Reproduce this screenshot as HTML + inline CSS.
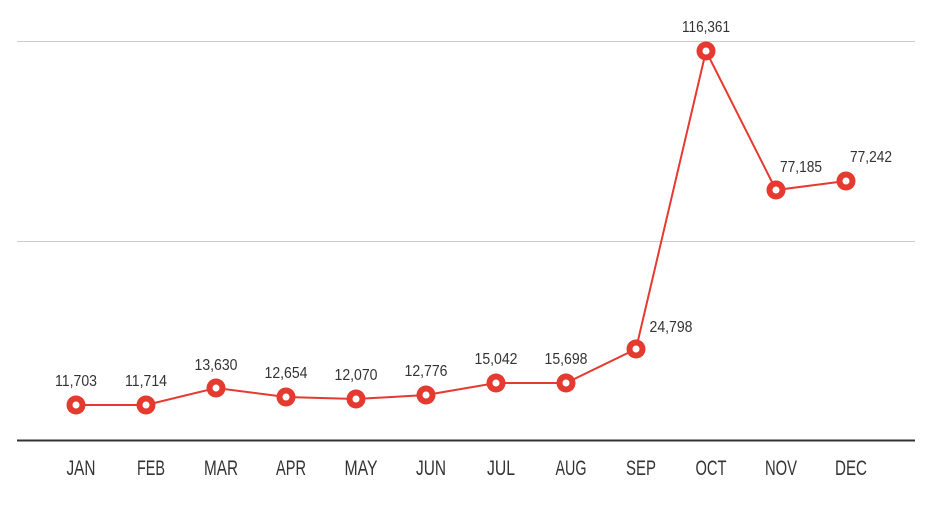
<!DOCTYPE html><html><head><style>
body{margin:0;background:#fff}
svg text{font-family:"Liberation Sans Narrow","Liberation Sans",sans-serif;fill:#333}
</style></head><body>
<svg width="931" height="502" xmlns="http://www.w3.org/2000/svg">
<line x1="17" y1="41.5" x2="915" y2="41.5" stroke="#ccc"/>
<line x1="17" y1="241.5" x2="915" y2="241.5" stroke="#ccc"/>
<line x1="17" y1="440.5" x2="915" y2="440.5" stroke="#333" stroke-width="2"/>
<polyline fill="none" stroke="#e53a30" stroke-width="2" points="76,405 146,405 216,388 286,397 356,399 426,395 496,383 566,383 636,349 706,51 776,190 846,181"/>
<g fill="#e53a30" stroke="none">
<circle cx="76" cy="405" r="9.5"/><circle cx="146" cy="405" r="9.5"/><circle cx="216" cy="388" r="9.5"/><circle cx="286" cy="397" r="9.5"/><circle cx="356" cy="399" r="9.5"/><circle cx="426" cy="395" r="9.5"/><circle cx="496" cy="383" r="9.5"/><circle cx="566" cy="383" r="9.5"/><circle cx="636" cy="349" r="9.5"/><circle cx="706" cy="51" r="9.5"/><circle cx="776" cy="190" r="9.5"/><circle cx="846" cy="181" r="9.5"/>
</g>
<g fill="#fff">
<circle cx="76" cy="405" r="3.5"/><circle cx="146" cy="405" r="3.5"/><circle cx="216" cy="388" r="3.5"/><circle cx="286" cy="397" r="3.5"/><circle cx="356" cy="399" r="3.5"/><circle cx="426" cy="395" r="3.5"/><circle cx="496" cy="383" r="3.5"/><circle cx="566" cy="383" r="3.5"/><circle cx="636" cy="349" r="3.5"/><circle cx="706" cy="51" r="3.5"/><circle cx="776" cy="190" r="3.5"/><circle cx="846" cy="181" r="3.5"/>
</g>
<g font-size="16" text-anchor="middle">
<text x="76" y="386" textLength="42" lengthAdjust="spacingAndGlyphs">11,703</text>
<text x="146" y="386" textLength="42" lengthAdjust="spacingAndGlyphs">11,714</text>
<text x="216" y="370" textLength="43" lengthAdjust="spacingAndGlyphs">13,630</text>
<text x="286" y="378" textLength="43" lengthAdjust="spacingAndGlyphs">12,654</text>
<text x="356" y="380" textLength="43" lengthAdjust="spacingAndGlyphs">12,070</text>
<text x="426" y="376" textLength="43" lengthAdjust="spacingAndGlyphs">12,776</text>
<text x="496" y="364" textLength="43" lengthAdjust="spacingAndGlyphs">15,042</text>
<text x="566" y="364" textLength="43" lengthAdjust="spacingAndGlyphs">15,698</text>
<text x="671" y="332" textLength="43" lengthAdjust="spacingAndGlyphs">24,798</text>
<text x="706" y="32" textLength="48" lengthAdjust="spacingAndGlyphs">116,361</text>
<text x="801" y="172" textLength="42" lengthAdjust="spacingAndGlyphs">77,185</text>
<text x="871" y="162" textLength="42" lengthAdjust="spacingAndGlyphs">77,242</text>
</g>
<g font-size="21" text-anchor="middle">
<text x="81" y="475" textLength="29" lengthAdjust="spacingAndGlyphs">JAN</text>
<text x="151" y="475" textLength="28" lengthAdjust="spacingAndGlyphs">FEB</text>
<text x="221" y="475" textLength="34" lengthAdjust="spacingAndGlyphs">MAR</text>
<text x="291" y="475" textLength="30" lengthAdjust="spacingAndGlyphs">APR</text>
<text x="361" y="475" textLength="33" lengthAdjust="spacingAndGlyphs">MAY</text>
<text x="431" y="475" textLength="30" lengthAdjust="spacingAndGlyphs">JUN</text>
<text x="501" y="475" textLength="28" lengthAdjust="spacingAndGlyphs">JUL</text>
<text x="571" y="475" textLength="31" lengthAdjust="spacingAndGlyphs">AUG</text>
<text x="641" y="475" textLength="30" lengthAdjust="spacingAndGlyphs">SEP</text>
<text x="711" y="475" textLength="31" lengthAdjust="spacingAndGlyphs">OCT</text>
<text x="781" y="475" textLength="32" lengthAdjust="spacingAndGlyphs">NOV</text>
<text x="851" y="475" textLength="32" lengthAdjust="spacingAndGlyphs">DEC</text>
</g>
</svg>
</body></html>
